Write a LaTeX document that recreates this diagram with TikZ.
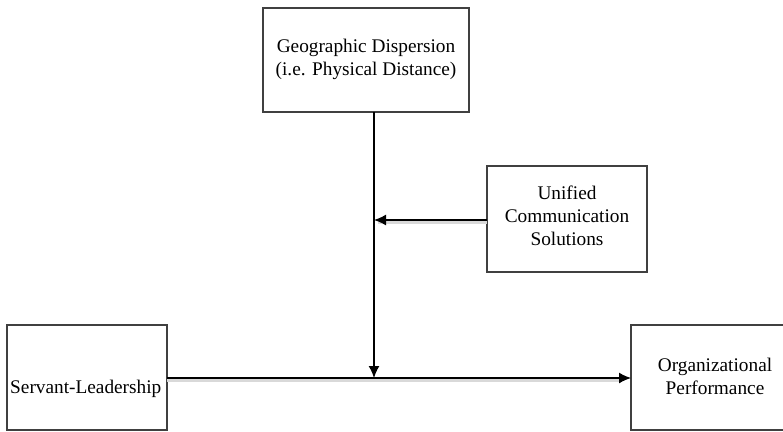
\documentclass[tikz,border=0pt]{standalone}
\usepackage{fontspec}
\setmainfont{Liberation Serif}
\usetikzlibrary{arrows.meta}
\begin{document}
\begin{tikzpicture}[x=1pt,y=-1pt,
  box/.style={draw=black!75,line width=1.1pt,inner sep=0pt},
  lbl/.style={font=\fontsize{19.3}{23}\selectfont,align=center,inner sep=0pt},
  conn/.style={line width=1.4pt,-{Latex[length=12pt,width=11pt]}},
  shade/.style={line width=2.5pt,black!15}]
\useasboundingbox (0,0) rectangle (783,431);
\clip (0,0) rectangle (783,431);
% boxes
\draw[box] (263,8) rectangle (469,112);
\coordinate (geo) at (374,112);
\node[lbl] (geot) at (366,59) {Geographic Dispersion\\(i.e. Physical Distance)};
\draw[box] (487,166) rectangle (647,272);
\coordinate (uni) at (487,220);
\node[lbl] (unit) at (567,216) {Unified\\Communication\\Solutions};
\draw[box] (7,325) rectangle (167,430);
\coordinate (sl) at (167,378);
\node[lbl,anchor=west] (slt) at (10,389) {Servant-Leadership};
\draw[box] (631,325) rectangle (800,430);
\coordinate (op) at (631,378);
\node[lbl] (opt) at (715,376) {Organizational\\Performance};
% junctions
\coordinate (j) at (374,378);
\coordinate (k) at (374,220);
% shadows
\draw[shade] ([yshift=-2.5pt]uni) -- ([xshift=4pt,yshift=-2.5pt]k);
\draw[shade] ([yshift=-2.5pt]sl) -- ([xshift=-10pt,yshift=-2.5pt]op);
% connectors
\draw[conn] (uni) -- (k);
\draw[conn] (geo) -- (j);
\draw[conn] (sl) -- (op);
\end{tikzpicture}
\end{document}
